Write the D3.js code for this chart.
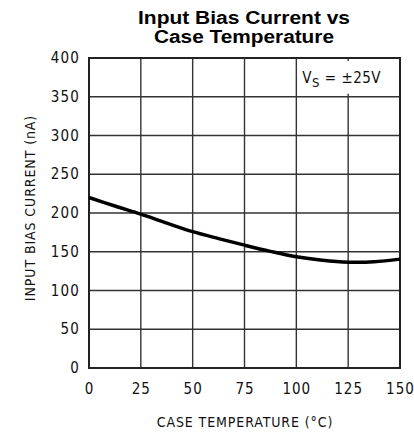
<!DOCTYPE html>
<html>
<head>
<meta charset="utf-8">
<script src="https://cdnjs.cloudflare.com/ajax/libs/d3/7.8.5/d3.min.js"></script>
<style>
  body { margin: 0; background: #fff; }
  svg { display: block; }
</style>
</head>
<body>
<script>
var width = 414,
    height = 436;

// values
var temps = [0, 12.5, 25, 37.5, 50, 62.5, 75, 87.5, 100, 112.5, 125, 137.5, 150];
var current = [220, 209, 198.5, 187, 176, 167, 158.5, 150.5, 143.5, 139, 136.5, 137, 140.5];

var xTicks = [0, 25, 50, 75, 100, 125, 150];
var yTicks = [0, 50, 100, 150, 200, 250, 300, 350, 400];

var titleLines = ['Input Bias Current vs', 'Case Temperature'];
var titleWidths = [212, 180];

var margin = {top: 58, right: 14, bottom: 68, left: 89};

var tickFont = '"DejaVu Sans Condensed", "DejaVu Sans", sans-serif';

var svg = d3.select('body')
  .append('svg')
  .attr('width', width)
  .attr('height', height);

var x = d3.scaleLinear()
  .domain([0, 150])
  .range([margin.left, width - margin.right]);

var y = d3.scaleLinear()
  .domain([0, 400])
  .range([height - margin.bottom, margin.top]);

// grid
var grid = svg.append('g');

grid.selectAll('.vg')
  .data(xTicks)
  .enter().append('line')
  .attr('x1', function(d) { return x(d); })
  .attr('x2', function(d) { return x(d); })
  .attr('y1', y(0))
  .attr('y2', y(400))
  .attr('stroke', '#333')
  .attr('stroke-width', 1.4);

grid.selectAll('.hg')
  .data(yTicks)
  .enter().append('line')
  .attr('x1', x(0))
  .attr('x2', x(150))
  .attr('y1', function(d) { return y(d); })
  .attr('y2', function(d) { return y(d); })
  .attr('stroke', '#333')
  .attr('stroke-width', 1.4);

// white patch behind the supply label
svg.append('rect')
  .attr('x', x(100) + 3)
  .attr('y', y(400) + 3)
  .attr('width', x(150) - x(100) - 6)
  .attr('height', y(350) - y(400) - 6)
  .attr('fill', '#fff');

var vs = svg.append('text')
  .attr('x', x(100) + 6)
  .attr('y', y(375) + 6)
  .style('font-family', tickFont)
  .style('font-size', '15px')
  .style('letter-spacing', '0.5px')
  .attr('fill', '#111');
vs.append('tspan').text('V');
vs.append('tspan').attr('dy', 4).style('font-size', '13px').text('S');
vs.append('tspan').attr('dy', -4).text(' = \u00B125V');

// frame
svg.append('rect')
  .attr('x', x(0))
  .attr('y', y(400))
  .attr('width', x(150) - x(0))
  .attr('height', y(0) - y(400))
  .attr('fill', 'none')
  .attr('stroke', '#222')
  .attr('stroke-width', 2);

// curve
var line = d3.line()
  .x(function(d, i) { return x(temps[i]); })
  .y(function(d) { return y(d); })
  .curve(d3.curveCatmullRom);

svg.append('path')
  .datum(current)
  .attr('d', line)
  .attr('fill', 'none')
  .attr('stroke', '#000')
  .attr('stroke-width', 3.5);

// tick labels
svg.selectAll('.xt')
  .data(xTicks)
  .enter().append('text')
  .attr('x', function(d) { return x(d) + 0.5; })
  .attr('y', y(0) + 26)
  .attr('text-anchor', 'middle')
  .style('font-family', tickFont)
  .style('font-size', '15px')
  .style('letter-spacing', '1px')
  .attr('fill', '#111')
  .text(function(d) { return d; });

svg.selectAll('.yt')
  .data(yTicks)
  .enter().append('text')
  .attr('x', x(0) - 9)
  .attr('y', function(d) { return y(d) + 5; })
  .attr('text-anchor', 'end')
  .style('font-family', tickFont)
  .style('font-size', '15px')
  .style('letter-spacing', '1.2px')
  .attr('fill', '#111')
  .text(function(d) { return d; });

// axis titles
svg.append('text')
  .attr('x', 245)
  .attr('y', 427)
  .attr('text-anchor', 'middle')
  .style('font-family', tickFont)
  .style('font-size', '14px')
  .style('letter-spacing', '0.9px')
  .attr('fill', '#111')
  .text('CASE TEMPERATURE (\u00B0C)');

svg.append('text')
  .attr('transform', 'translate(35,208) rotate(-90)')
  .attr('text-anchor', 'middle')
  .style('font-family', tickFont)
  .style('font-size', '14px')
  .style('letter-spacing', '0.9px')
  .attr('fill', '#111')
  .text('INPUT BIAS CURRENT (nA)');

// title
svg.selectAll('.title')
  .data(titleLines)
  .enter().append('text')
  .attr('x', 244)
  .attr('y', function(d, i) { return 24 + i * 19; })
  .attr('text-anchor', 'middle')
  .attr('textLength', function(d, i) { return titleWidths[i]; })
  .attr('lengthAdjust', 'spacingAndGlyphs')
  .style('font-family', '"Liberation Sans", Arial, sans-serif')
  .style('font-size', '18px')
  .style('font-weight', 'bold')
  .attr('fill', '#000')
  .text(function(d) { return d; });
</script>
</body>
</html>
